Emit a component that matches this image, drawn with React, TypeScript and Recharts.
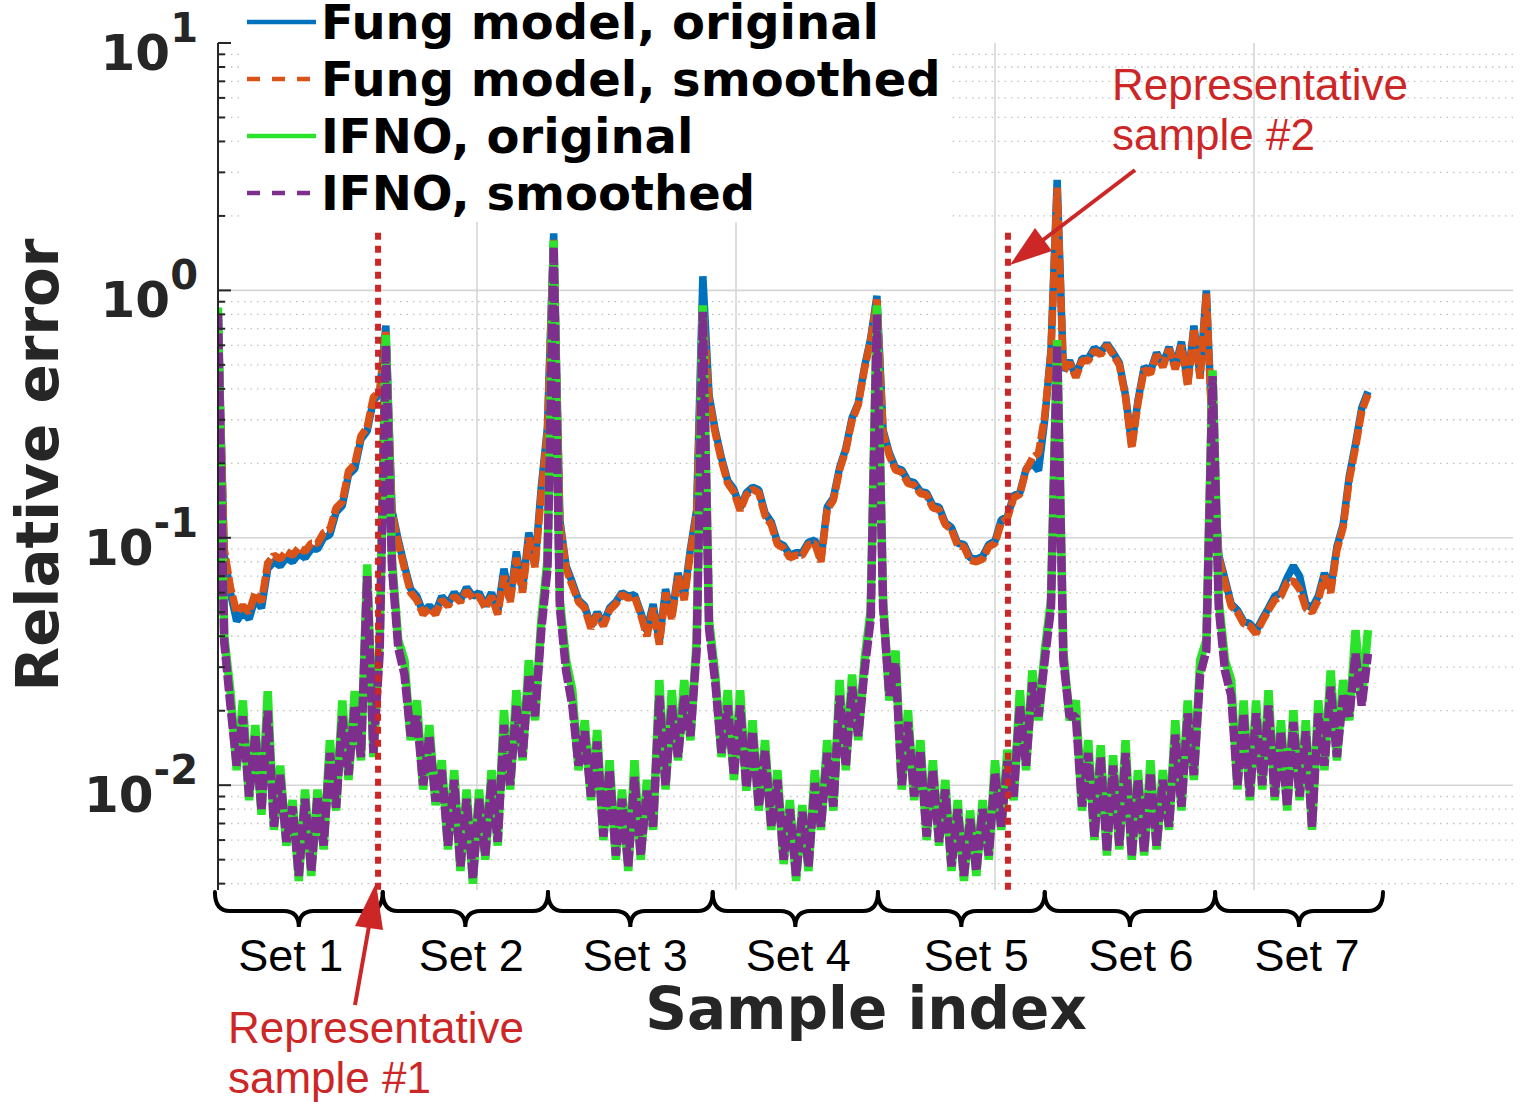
import React from 'react';
import { LineChart, Line, XAxis, YAxis, ReferenceLine, CartesianGrid, Legend } from 'recharts';

// ---------- data ----------
const STEP = 12; // samples between stored points
const Y_MIN = 0.00377;
const Y_MAX = 10;
const X_MAX = 2500;

const fungOriginal = [
  // Set 1
  0.85, 0.085, 0.06, 0.046, 0.05, 0.047, 0.057, 0.052, 0.075, 0.08, 0.077, 0.083, 0.08, 0.086,
  0.083, 0.09, 0.09, 0.1, 0.103, 0.127, 0.135, 0.18, 0.19, 0.25, 0.27, 0.36, 0.38, 0.72,
  // Set 2
  0.129, 0.098, 0.077, 0.062, 0.058, 0.05, 0.053, 0.05, 0.058, 0.054, 0.06, 0.056, 0.063, 0.058,
  0.06, 0.053, 0.06, 0.05, 0.075, 0.056, 0.088, 0.062, 0.105, 0.078, 0.16, 0.28, 1.7,
  // Set 3
  0.118, 0.077, 0.066, 0.056, 0.053, 0.044, 0.05, 0.045, 0.052, 0.055, 0.06, 0.058, 0.059, 0.05,
  0.042, 0.054, 0.038, 0.062, 0.048, 0.072, 0.058, 0.09, 0.13, 1.14,
  // Set 4
  0.377, 0.272, 0.21, 0.17, 0.157, 0.132, 0.152, 0.16, 0.156, 0.126, 0.116, 0.096, 0.093, 0.085,
  0.087, 0.087, 0.096, 0.098, 0.082, 0.133, 0.145, 0.192, 0.23, 0.305, 0.35, 0.49, 0.64, 0.95,
  // Set 5
  0.272, 0.22, 0.192, 0.188, 0.17, 0.167, 0.154, 0.152, 0.135, 0.133, 0.115, 0.11, 0.095, 0.094,
  0.083, 0.082, 0.084, 0.094, 0.097, 0.118, 0.122, 0.148, 0.152, 0.19, 0.2, 0.187, 0.3, 0.572, 2.8,
  // Set 6
  0.475, 0.52, 0.45, 0.53, 0.53, 0.585, 0.56, 0.61, 0.56, 0.51, 0.377, 0.236, 0.359, 0.49,
  0.47, 0.56, 0.5, 0.59, 0.49, 0.62, 0.42, 0.72, 0.45, 1.0, 0.25,
  // Set 7
  0.085, 0.068, 0.054, 0.051, 0.046, 0.045, 0.042, 0.047, 0.052, 0.058, 0.06, 0.069, 0.077,
  0.07, 0.054, 0.052, 0.058, 0.072, 0.062, 0.092, 0.113, 0.178, 0.24, 0.335, 0.39,
];

const fungSmoothed = [
  // Set 1
  0.82, 0.09, 0.063, 0.05, 0.053, 0.05, 0.06, 0.055, 0.079, 0.085, 0.082, 0.088, 0.085, 0.091,
  0.088, 0.095, 0.095, 0.105, 0.108, 0.132, 0.14, 0.186, 0.198, 0.258, 0.28, 0.37, 0.39, 0.68,
  // Set 2
  0.125, 0.095, 0.075, 0.06, 0.056, 0.049, 0.052, 0.049, 0.056, 0.053, 0.058, 0.055, 0.061, 0.057,
  0.058, 0.052, 0.058, 0.049, 0.07, 0.055, 0.083, 0.06, 0.1, 0.076, 0.15, 0.27, 1.6,
  // Set 3
  0.115, 0.075, 0.064, 0.055, 0.052, 0.043, 0.049, 0.044, 0.051, 0.054, 0.059, 0.057, 0.058, 0.049,
  0.04, 0.052, 0.037, 0.06, 0.047, 0.07, 0.056, 0.087, 0.125, 0.85,
  // Set 4
  0.36, 0.265, 0.205, 0.166, 0.153, 0.129, 0.149, 0.157, 0.152, 0.123, 0.113, 0.094, 0.091, 0.083,
  0.085, 0.085, 0.094, 0.095, 0.08, 0.13, 0.142, 0.188, 0.226, 0.298, 0.345, 0.48, 0.63, 0.92,
  // Set 5
  0.265, 0.215, 0.188, 0.184, 0.166, 0.163, 0.151, 0.149, 0.132, 0.13, 0.113, 0.108, 0.093, 0.092,
  0.081, 0.08, 0.082, 0.092, 0.095, 0.115, 0.12, 0.145, 0.15, 0.188, 0.21, 0.22, 0.31, 0.56, 2.6,
  // Set 6
  0.47, 0.51, 0.445, 0.52, 0.52, 0.57, 0.55, 0.6, 0.55, 0.5, 0.37, 0.23, 0.35, 0.48,
  0.46, 0.55, 0.49, 0.58, 0.48, 0.6, 0.41, 0.7, 0.44, 0.97, 0.24,
  // Set 7
  0.083, 0.066, 0.053, 0.05, 0.045, 0.044, 0.041, 0.046, 0.051, 0.056, 0.058, 0.066, 0.067,
  0.062, 0.052, 0.05, 0.056, 0.07, 0.06, 0.089, 0.11, 0.172, 0.232, 0.325, 0.38,
];

const ifnoOriginal = [
  // Set 1
  0.85, 0.04, 0.024, 0.0115, 0.022, 0.0087, 0.0175, 0.0076, 0.024, 0.0066, 0.012, 0.0057, 0.0087, 0.0041,
  0.0096, 0.0043, 0.0096, 0.0055, 0.0152, 0.0079, 0.022, 0.0105, 0.024, 0.0126, 0.078, 0.013, 0.0385, 0.66,
  // Set 2
  0.081, 0.0385, 0.032, 0.0152, 0.022, 0.0096, 0.0175, 0.0083, 0.0126, 0.0055, 0.0115, 0.0045, 0.0096, 0.004,
  0.0096, 0.005, 0.0115, 0.0057, 0.0201, 0.0096, 0.0242, 0.0126, 0.032, 0.0183, 0.0464, 0.081, 1.59,
  // Set 3
  0.056, 0.032, 0.0242, 0.0115, 0.0183, 0.0087, 0.0167, 0.006, 0.0126, 0.005, 0.0096, 0.0045, 0.0126, 0.005,
  0.0105, 0.0066, 0.0266, 0.0096, 0.0242, 0.0126, 0.0266, 0.0152, 0.0385, 0.87,
  // Set 4
  0.0464, 0.028, 0.013, 0.0242, 0.0105, 0.0242, 0.0095, 0.0183, 0.0079, 0.0152, 0.0066, 0.0115, 0.0048, 0.0087,
  0.0041, 0.0083, 0.0045, 0.0115, 0.0066, 0.0152, 0.0079, 0.0266, 0.0115, 0.028, 0.0152, 0.032, 0.051, 0.87,
  // Set 5
  0.056, 0.022, 0.035, 0.0096, 0.0201, 0.0087, 0.0152, 0.006, 0.0126, 0.0057, 0.0105, 0.0045, 0.0087, 0.0041,
  0.0079, 0.0043, 0.0087, 0.005, 0.0126, 0.0066, 0.0139, 0.0087, 0.0242, 0.0115, 0.0291, 0.0183, 0.035, 0.056, 0.63,
  // Set 6
  0.035, 0.0183, 0.022, 0.0079, 0.0152, 0.006, 0.0145, 0.0052, 0.0132, 0.0055, 0.0152, 0.005, 0.0115,
  0.0052, 0.0126, 0.0055, 0.0115, 0.0066, 0.0183, 0.0079, 0.022, 0.0105, 0.032, 0.0385, 0.475,
  // Set 7
  0.056, 0.032, 0.0266, 0.0096, 0.022, 0.0087, 0.022, 0.0096, 0.0242, 0.0087, 0.0183, 0.0079, 0.0201,
  0.0087, 0.0183, 0.0066, 0.022, 0.0115, 0.0291, 0.0126, 0.0266, 0.0183, 0.0423, 0.022, 0.0423,
];

const ifnoSmoothed = [
  // Set 1
  0.8, 0.038, 0.021, 0.012, 0.019, 0.009, 0.016, 0.0079, 0.02, 0.0068, 0.011, 0.0059, 0.0082, 0.0043,
  0.0088, 0.0045, 0.009, 0.0057, 0.0135, 0.0081, 0.019, 0.011, 0.021, 0.013, 0.07, 0.0135, 0.034, 0.6,
  // Set 2
  0.075, 0.036, 0.028, 0.0158, 0.019, 0.01, 0.0158, 0.0086, 0.0115, 0.0057, 0.0105, 0.0047, 0.0088, 0.0042,
  0.0088, 0.0052, 0.0105, 0.0059, 0.0175, 0.01, 0.021, 0.013, 0.028, 0.019, 0.042, 0.075, 1.5,
  // Set 3
  0.052, 0.029, 0.021, 0.012, 0.0165, 0.009, 0.015, 0.0062, 0.0115, 0.0052, 0.0088, 0.0047, 0.0108, 0.0052,
  0.0095, 0.0068, 0.023, 0.01, 0.021, 0.013, 0.023, 0.0158, 0.035, 0.82,
  // Set 4
  0.043, 0.026, 0.0135, 0.021, 0.011, 0.021, 0.0098, 0.0165, 0.0082, 0.0138, 0.0068, 0.0105, 0.005, 0.008,
  0.0043, 0.0078, 0.0047, 0.0102, 0.0068, 0.0135, 0.0082, 0.023, 0.012, 0.025, 0.0158, 0.029, 0.047, 0.8,
  // Set 5
  0.052, 0.023, 0.031, 0.01, 0.018, 0.009, 0.0138, 0.0062, 0.0115, 0.0059, 0.0096, 0.0047, 0.008, 0.0043,
  0.0073, 0.0045, 0.008, 0.0052, 0.0112, 0.0068, 0.0125, 0.009, 0.021, 0.012, 0.026, 0.019, 0.032, 0.052, 0.6,
  // Set 6
  0.032, 0.019, 0.019, 0.0082, 0.0135, 0.0062, 0.013, 0.0054, 0.012, 0.0057, 0.0135, 0.0052, 0.0105,
  0.0054, 0.0112, 0.0057, 0.0105, 0.0068, 0.016, 0.0082, 0.0195, 0.011, 0.028, 0.035, 0.45,
  // Set 7
  0.052, 0.029, 0.023, 0.01, 0.0195, 0.009, 0.0195, 0.01, 0.021, 0.009, 0.0165, 0.0082, 0.018,
  0.009, 0.0165, 0.0068, 0.0195, 0.012, 0.025, 0.013, 0.023, 0.019, 0.034, 0.021, 0.034,
];

const majorTicks = [0.01, 0.1, 1, 10];
const majorExponents = ['-2', '-1', '0', '1'];
const minorTicks = [
  0.004, 0.005, 0.006, 0.007, 0.008, 0.009,
  0.02, 0.03, 0.04, 0.05, 0.06, 0.07, 0.08, 0.09,
  0.2, 0.3, 0.4, 0.5, 0.6, 0.7, 0.8, 0.9,
  2, 3, 4, 5, 6, 7, 8, 9,
];
const gridMajorY = [0.01, 0.1, 1];
const xTicks = [500, 1000, 1500, 2000];
const setBounds = [-6, 318, 637, 955, 1274, 1596, 1925, 2249];
const setLabels = ['Set 1', 'Set 2', 'Set 3', 'Set 4', 'Set 5', 'Set 6', 'Set 7'];
const setLabelShift = [-8, 6, 5, 3, 15, 11, 8];
const repSamples = [309, 1525];
const repTop = 1.71;

const legendLabels = ['Fung model, original', 'Fung model, smoothed', 'IFNO, original', 'IFNO, smoothed'];

const COLORS = {
  fo: '#0072BD',
  fs: '#D95319',
  io: '#2BE32B',
  is: '#7E2F8E',
};
const RED = '#CD2626';
const AXIS = '#262626';

const chartData = fungOriginal.map((v, i) => ({
  sample: i * STEP,
  fungOriginal: v,
  fungSmoothed: fungSmoothed[i],
  ifnoOriginal: ifnoOriginal[i],
  ifnoSmoothed: ifnoSmoothed[i],
}));

// ---------- axis ticks ----------
function LeftTick(props: any) {
  const { x, y, payload } = props;
  const idx = majorTicks.indexOf(payload.value);
  const major = idx >= 0;
  return (
    <g>
      <line x1={x} x2={x + (major ? 13 : 7)} y1={y} y2={y} stroke={AXIS} strokeWidth={2} />
      {major && (
        <text
          x={x - 20}
          y={y + 27}
          textAnchor="end"
          fontFamily="DejaVu Sans"
          fontWeight="bold"
          fontSize={50}
          fill={AXIS}
        >
          10
          <tspan fontSize={40} dy={-28}>
            {majorExponents[idx]}
          </tspan>
        </text>
      )}
    </g>
  );
}

function RightTick(props: any) {
  const { x, y, payload } = props;
  const major = majorTicks.indexOf(payload.value) >= 0;
  return <line x1={x} x2={x - (major ? 13 : 7)} y1={y} y2={y} stroke={AXIS} strokeWidth={2} />;
}

function BottomTick(props: any) {
  const { x, y } = props;
  return <line x1={x} x2={x} y1={y} y2={y - 11} stroke={AXIS} strokeWidth={2} />;
}

function TopTick(props: any) {
  const { x, y } = props;
  return <line x1={x} x2={x} y1={y} y2={y + 11} stroke={AXIS} strokeWidth={2} />;
}

// ---------- braces ----------
function makeBrace(label: string, shift: number) {
  return (p: any) => {
    const { x1, x2, y1 } = p;
    const y0 = y1 + 2;
    const h = 19;
    const tip = 35;
    const r = 15;
    const xm = (x1 + x2) / 2;
    const d = `M${x1},${y0} Q${x1},${y0 + h} ${x1 + r},${y0 + h} L${xm - r},${y0 + h} Q${xm},${y0 + h} ${xm},${y0 + tip} Q${xm},${y0 + h} ${xm + r},${y0 + h} L${x2 - r},${y0 + h} Q${x2},${y0 + h} ${x2},${y0}`;
    return (
      <g>
        <path d={d} fill="none" stroke="#000" strokeWidth={4} strokeLinecap="round" />
        <text
          x={xm + shift}
          y={y1 + 81}
          textAnchor="middle"
          fontFamily="Liberation Sans"
          fontSize={45}
          fill="#000"
        >
          {label}
        </text>
      </g>
    );
  };
}

// ---------- legend ----------
function LegendBox() {
  const rows = [
    { label: legendLabels[0], color: COLORS.fo, dash: undefined as string | undefined },
    { label: legendLabels[1], color: COLORS.fs, dash: '13 12' },
    { label: legendLabels[2], color: COLORS.io, dash: undefined },
    { label: legendLabels[3], color: COLORS.is, dash: '13 12' },
  ];
  return (
    <svg width={712} height={222} style={{ display: 'block', background: '#fff' }}>
      <rect x={0} y={0} width={712} height={222} fill="#fff" />
      {rows.map((r, k) => {
        const base = 39 + k * 57;
        return (
          <g key={k}>
            <line
              x1={7}
              x2={76}
              y1={base - 17}
              y2={base - 17}
              stroke={r.color}
              strokeWidth={4.5}
              strokeDasharray={r.dash}
            />
            <text x={81} y={base} fontFamily="DejaVu Sans" fontWeight="bold" fontSize={48} fill="#000">
              {r.label}
            </text>
          </g>
        );
      })}
    </svg>
  );
}

// ---------- annotations overlay ----------
function Annotations() {
  const textStyle = { fontFamily: 'Liberation Sans', fontSize: 44, fill: RED } as any;
  return (
    <svg
      width={1521}
      height={1102}
      style={{ position: 'absolute', left: 0, top: 0, pointerEvents: 'none' }}
    >
      {/* arrow #1 */}
      <line x1={355} y1={1005} x2={369} y2={926} stroke={RED} strokeWidth={4} />
      <polygon points="376,883 355,926 383,930" fill={RED} />
      <text x={228} y={1043} style={textStyle}>Representative</text>
      <text x={228} y={1093} style={textStyle}>sample #1</text>
      {/* arrow #2 */}
      <line x1={1135} y1={170} x2={1043} y2={240} stroke={RED} strokeWidth={4} />
      <polygon points="1010,265 1052,251 1035,228" fill={RED} />
      <text x={1112} y={100} style={textStyle}>Representative</text>
      <text x={1112} y={150} style={textStyle}>sample #2</text>
      {/* y label */}
      <text
        transform="translate(58,465) rotate(-90)"
        textAnchor="middle"
        fontFamily="DejaVu Sans"
        fontWeight="bold"
        fontSize={58}
        fill={AXIS}
      >
        Relative error
      </text>
      {/* x label */}
      <text
        x={866}
        y={1029}
        textAnchor="middle"
        fontFamily="DejaVu Sans"
        fontWeight="bold"
        fontSize={58}
        fill={AXIS}
      >
        Sample index
      </text>
    </svg>
  );
}

export default function App() {
  return (
    <div style={{ position: 'relative', width: 1521, height: 1102, background: '#fff' }}>
      <style>{'body{margin:0;background:#fff;}'}</style>
      <LineChart
        width={1521}
        height={1102}
        data={chartData}
        margin={{ top: 43, right: 8, bottom: 212, left: 8 }}
      >
        <CartesianGrid
          xAxisId="b"
          yAxisId="l"
          horizontalValues={minorTicks}
          vertical={false}
          stroke="#c2c2c2"
          strokeDasharray="1.5 5"
          strokeWidth={1.3}
        />
        <CartesianGrid
          xAxisId="b"
          yAxisId="l"
          horizontalValues={gridMajorY}
          verticalValues={xTicks}
          stroke="#d6d6d6"
          strokeWidth={1.6}
        />
        <XAxis
          xAxisId="b"
          dataKey="sample"
          type="number"
          domain={[0, X_MAX]}
          allowDataOverflow
          ticks={xTicks}
          interval={0}
          height={0}
          tickSize={0}
          tickMargin={0}
          tick={<BottomTick />}
          tickLine={false}
          axisLine={{ stroke: AXIS, strokeWidth: 2 }}
        />
        <XAxis
          xAxisId="t"
          orientation="top"
          dataKey="sample"
          type="number"
          domain={[0, X_MAX]}
          allowDataOverflow
          ticks={xTicks}
          interval={0}
          height={0}
          tickSize={0}
          tickMargin={0}
          tick={<TopTick />}
          tickLine={false}
          axisLine={{ stroke: AXIS, strokeWidth: 2 }}
        />
        <YAxis
          yAxisId="l"
          type="number"
          scale="log"
          domain={[Y_MIN, Y_MAX]}
          allowDataOverflow
          ticks={[...majorTicks, ...minorTicks]}
          interval={0}
          width={210}
          tickSize={0}
          tickMargin={0}
          tick={<LeftTick />}
          tickLine={false}
          axisLine={{ stroke: AXIS, strokeWidth: 2 }}
        />
        <YAxis
          yAxisId="r"
          orientation="right"
          type="number"
          scale="log"
          domain={[Y_MIN, Y_MAX]}
          allowDataOverflow
          ticks={[...majorTicks, ...minorTicks]}
          interval={0}
          width={0}
          tickSize={0}
          tickMargin={0}
          tick={<RightTick />}
          tickLine={false}
          axisLine={{ stroke: AXIS, strokeWidth: 2 }}
        />

        <Line
          xAxisId="b"
          yAxisId="l"
          dataKey="fungOriginal"
          name={legendLabels[0]}
          stroke={COLORS.fo}
          strokeWidth={7.5}
          strokeLinejoin="bevel"
          dot={false}
          isAnimationActive={false}
        />
        <Line
          xAxisId="b"
          yAxisId="l"
          dataKey="fungSmoothed"
          name={legendLabels[1]}
          stroke={COLORS.fs}
          strokeWidth={7.5}
          strokeDasharray="16 3"
          strokeLinejoin="bevel"
          dot={false}
          isAnimationActive={false}
        />
        <Line
          xAxisId="t"
          yAxisId="r"
          dataKey="ifnoOriginal"
          name={legendLabels[2]}
          stroke={COLORS.io}
          strokeWidth={8.5}
          strokeLinejoin="bevel"
          dot={false}
          isAnimationActive={false}
        />
        <Line
          xAxisId="t"
          yAxisId="r"
          dataKey="ifnoSmoothed"
          name={legendLabels[3]}
          stroke={COLORS.is}
          strokeWidth={8.5}
          strokeDasharray="16 3"
          strokeLinejoin="bevel"
          dot={false}
          isAnimationActive={false}
        />

        {repSamples.map((s) => (
          <ReferenceLine
            key={`rep-${s}`}
            xAxisId="b"
            yAxisId="l"
            segment={[
              { x: s, y: repTop },
              { x: s, y: Y_MIN },
            ]}
            ifOverflow="visible"
            stroke={RED}
            strokeWidth={6}
            strokeDasharray="7 6"
          />
        ))}

        {setLabels.map((label, k) => (
          <ReferenceLine
            key={label}
            xAxisId="b"
            yAxisId="l"
            segment={[
              { x: setBounds[k], y: Y_MIN },
              { x: setBounds[k + 1], y: Y_MIN },
            ]}
            ifOverflow="visible"
            shape={makeBrace(label, setLabelShift[k])}
          />
        ))}

        <Legend
          layout="vertical"
          align="center"
          verticalAlign="middle"
          content={() => <LegendBox />}
          wrapperStyle={{ top: 0, left: 240, width: 712, height: 222 }}
        />
      </LineChart>
      <Annotations />
    </div>
  );
}
